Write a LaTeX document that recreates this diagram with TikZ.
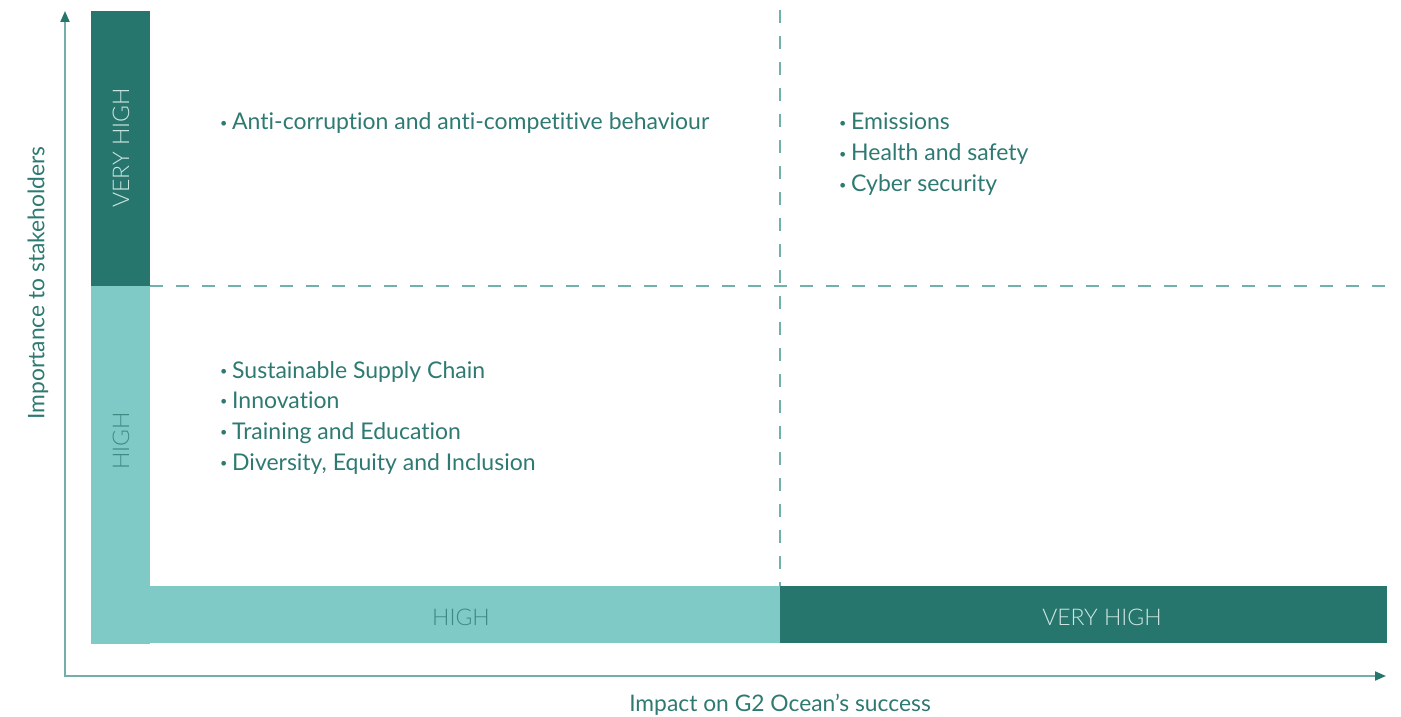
\documentclass[tikz,border=0pt]{standalone}
\usepackage{fontspec}
\setmainfont{Lato}[Ligatures=NoCommon]
\newfontfamily\thinfont{Lato Light}[Ligatures=NoCommon]
\usetikzlibrary{arrows.meta}
\definecolor{darkteal}{HTML}{27766E}
\definecolor{lightteal}{HTML}{7FCAC7}
\definecolor{axisteal}{HTML}{74AEA9}
\definecolor{dashteal}{HTML}{6FB2AC}
\definecolor{txtteal}{HTML}{2E7A72}
\definecolor{darklbl}{HTML}{CFE6E3}
\definecolor{lightlbl}{HTML}{3E8A83}
\newcommand{\dotitem}{\makebox[12pt][l]{\raisebox{0.1em}{\scalebox{0.55}{\textbullet}}}}
\begin{document}
\begin{tikzpicture}[x=1pt,y=-1pt,
  axis/.style={draw=axisteal,line width=2pt,-{Triangle[length=11pt,width=9pt,fill=darkteal,color=darkteal]}},
  grid/.style={draw=dashteal,line width=1.3pt,dash pattern=on 13pt off 13pt},
  item/.style={anchor=base west,inner sep=0pt,text=txtteal,font=\fontsize{23}{27}\selectfont},
  barlbl/.style={font=\thinfont\fontsize{23}{27}\selectfont},
  axlbl/.style={text=txtteal,font=\fontsize{22.8}{27}\selectfont}]
\useasboundingbox (0,0) rectangle (1401,717);
% level bars
\fill[darkteal] (91,11) rectangle (150,286);
\fill[lightteal] (91,286) rectangle (150,644);
\fill[lightteal] (91,586) rectangle (780,643);
\fill[darkteal] (780,586) rectangle (1387,643);
\node[barlbl,text=darklbl,rotate=90] (vvh) at (121,148) {VERY HIGH};
\node[barlbl,text=lightlbl,rotate=90] (vh) at (121,441) {HIGH};
\node[barlbl,text=lightlbl] (hh) at (461,617) {HIGH};
\node[barlbl,text=darklbl] (hvh) at (1102,617) {VERY HIGH};
% axes
\coordinate (ybase) at (65,675);
\coordinate (ytop) at (65,11);
\coordinate (xbase) at (64,676);
\coordinate (xend) at (1386,676);
\draw[axis] (ybase) -- (ytop);
\draw[axis] (xbase) -- (xend);
\node[axlbl,rotate=90] (ylab) at (38,283) {Importance to stakeholders};
\node[axlbl] (xlab) at (780,705) {Impact on G2 Ocean’s success};
% quadrant dividers
\coordinate (vt) at (780,10);
\coordinate (vb) at (780,586);
\coordinate (hl) at (150,286);
\coordinate (hr) at (1392,286);
\draw[grid] (vt) -- (vb);
\draw[grid] (hl) -- (hr);
% topics
\node[item] (a1) at (220,129.5) {\dotitem Anti-corruption and anti-competitive behaviour};
\node[item] (b1) at (839,129.5) {\dotitem Emissions};
\node[item] (b2) at (839,160.5) {\dotitem Health and safety};
\node[item] (b3) at (839,191.5) {\dotitem Cyber security};
\node[item] (c1) at (220,378) {\dotitem Sustainable Supply Chain};
\node[item] (c2) at (220,408) {\dotitem Innovation};
\node[item] (c3) at (220,439) {\dotitem Training and Education};
\node[item] (c4) at (220,470) {\dotitem Diversity, Equity and Inclusion};
\end{tikzpicture}
\end{document}
